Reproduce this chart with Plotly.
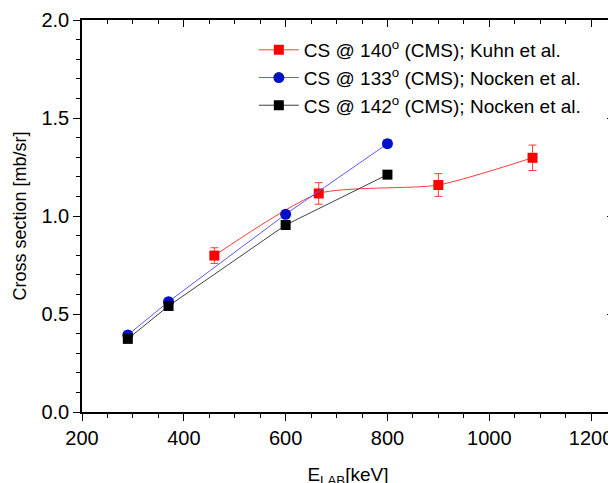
import plotly.graph_objects as go

# Data
kuhn_x = [460, 665, 900, 1085]
kuhn_y = [0.798, 1.115, 1.158, 1.297]
kuhn_err = [0.040, 0.055, 0.058, 0.065]

n133_x = [290, 370, 600, 800]
n133_y = [0.393, 0.563, 1.009, 1.369]
n133_err = [0.0, 0.0, 0.0, 0.02]

n142_x = [290, 370, 600, 800]
n142_y = [0.373, 0.541, 0.954, 1.211]

x_range = [200, 1245]
y_range = [0, 2.0]

FONT = "Liberation Sans, Arial, sans-serif"

fig = go.Figure()

fig.add_trace(go.Scatter(
    x=kuhn_x, y=kuhn_y, mode="lines+markers",
    name="CS @ 140<sup>o</sup> (CMS); Kuhn et al.",
    line=dict(color="#ff3b3b", width=1, shape="spline", smoothing=0.6),
    marker=dict(symbol="square", size=10, color="#ff0000"),
    error_y=dict(type="data", array=kuhn_err, color="#ff3b3b", thickness=1, width=4),
))
fig.add_trace(go.Scatter(
    x=n133_x, y=n133_y, mode="lines+markers",
    name="CS @ 133<sup>o</sup> (CMS); Nocken et al.",
    line=dict(color="#5a5aff", width=1),
    marker=dict(symbol="circle", size=11, color="#0010c8"),
    error_y=dict(type="data", array=n133_err, color="#5a5aff", thickness=1, width=4),
))
fig.add_trace(go.Scatter(
    x=n142_x, y=n142_y, mode="lines+markers",
    name="CS @ 142<sup>o</sup> (CMS); Nocken et al.",
    line=dict(color="#404040", width=1),
    marker=dict(symbol="square", size=10, color="#000000"),
))
# helper trace to activate mirrored axes
fig.add_trace(go.Scatter(x=[None], y=[None], xaxis="x2", yaxis="y2",
                         showlegend=False, hoverinfo="skip"))

axis_common = dict(showgrid=False, zeroline=False, showline=True,
                   linecolor="black", linewidth=1.5, tickcolor="black",
                   tickwidth=1.2, automargin=False)

fig.update_layout(
    width=616, height=483,
    margin=dict(l=74, r=10, t=12, b=79),
    paper_bgcolor="white", plot_bgcolor="white",
    font=dict(family=FONT, color="black"),
    xaxis=dict(range=x_range, dtick=200, tick0=200, ticks="outside", ticklen=7,
               tickfont=dict(size=20),
               minor=dict(dtick=50, ticks="outside", ticklen=4, tickcolor="black"),
               title=dict(text="E<sub>LAB</sub>[keV]", font=dict(size=19), standoff=20),
               **axis_common),
    yaxis=dict(range=y_range, dtick=0.5, tickformat=".1f", ticks="outside", ticklen=7,
               tickfont=dict(size=20),
               minor=dict(dtick=0.1, ticks="outside", ticklen=4, tickcolor="black"),
               title=dict(text="Cross section [mb/sr]", font=dict(size=18), standoff=10),
               **axis_common),
    xaxis2=dict(range=x_range, dtick=200, tick0=200, overlaying="x", side="top",
                anchor="y", ticks="inside", ticklen=7, showticklabels=False,
                minor=dict(dtick=50, ticks="inside", ticklen=4, tickcolor="black"),
                **axis_common),
    yaxis2=dict(range=y_range, dtick=0.5, overlaying="y", side="right",
                anchor="x", ticks="inside", ticklen=7, showticklabels=False,
                minor=dict(dtick=0.1, ticks="inside", ticklen=4, tickcolor="black"),
                **axis_common),
    legend=dict(x=0.323, y=0.972, xanchor="left", yanchor="top",
                bgcolor="rgba(0,0,0,0)", font=dict(size=19),
                tracegroupgap=0, itemwidth=40),
    showlegend=True,
)

fig.write_html("out.html")
